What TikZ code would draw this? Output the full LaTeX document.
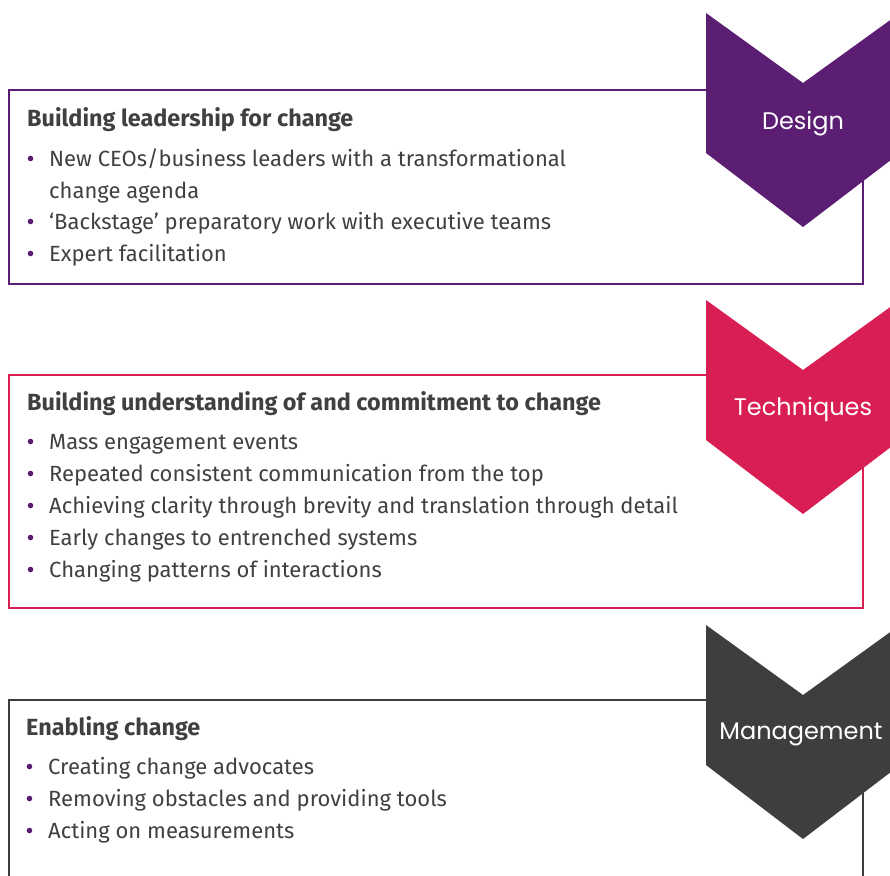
\documentclass[tikz,border=0pt]{standalone}
\usepackage{fontspec}
\setmainfont{Fira Sans}
\newfontfamily\stagefont{Poppins}

\definecolor{designpurple}{HTML}{5B1E73}
\definecolor{techcrimson}{HTML}{D91E54}
\definecolor{mgmtgray}{HTML}{3E3E3E}
\definecolor{textgray}{HTML}{404040}
\definecolor{dotpurple}{HTML}{5B1E73}

\tikzset{
  frame/.style={line width=1.6pt},
  head/.style={anchor=base west, inner sep=0pt, text=textgray,
    font=\fontsize{23.4}{27}\selectfont\bfseries},
  item/.style={anchor=base west, inner sep=0pt, text=textgray,
    font=\fontsize{22}{26}\selectfont},
  stage/.style={inner sep=0pt, text=white,
    font=\stagefont\fontsize{24}{28}\selectfont},
}

\begin{document}
\begin{tikzpicture}[x=1pt, y=-1pt]
  \useasboundingbox (0,0) rectangle (890,875);
  \clip (0,0) rectangle (890,875);

  % box frames
  \draw[frame, designpurple] (706,90) -- (9,90) -- (9,284) -- (863,284) -- (863,170);
  \draw[frame, techcrimson] (706,375) -- (9,375) -- (9,608) -- (863,608) -- (863,455);
  \draw[frame, mgmtgray] (706,700) -- (9,700) -- (9,890);
  \draw[frame, mgmtgray] (863,780) -- (863,890);

  % chevrons
  \fill[designpurple] (706,13) -- (803,83) -- (900,13) -- (900,153) -- (803,227) -- (706,153) -- cycle;
  \fill[techcrimson] (706,300) -- (803,370) -- (900,300) -- (900,440) -- (803,514) -- (706,440) -- cycle;
  \fill[mgmtgray] (706,625) -- (803,695) -- (900,625) -- (900,765) -- (803,839) -- (706,765) -- cycle;

  \node[stage] (design) at (803,124) {Design};
  \node[stage] (techniques) at (803,409) {Techniques};
  \node[stage] (management) at (801,734) {Management};

  % building leadership
  \node[head] (lead) at (27,126) {Building leadership for change};
  \node[item] (lead1) at (49,166) {New CEOs/business leaders with a transformational};
  \node[item] (lead1b) at (49,198) {change agenda};
  \node[item] (lead2) at (49,229) {‘Backstage’ preparatory work with executive teams};
  \node[item] (lead3) at (49,261) {Expert facilitation};

  % building understanding
  \node[head] (under) at (27,410) {Building understanding of and commitment to change};
  \node[item] (under1) at (49,449) {Mass engagement events};
  \node[item] (under2) at (49,481) {Repeated consistent communication from the top};
  \node[item] (under3) at (49,513) {Achieving clarity through brevity and translation through detail};
  \node[item] (under4) at (49,545) {Early changes to entrenched systems};
  \node[item] (under5) at (49,577) {Changing patterns of interactions};

  % enabling change
  \node[head] (enable) at (26,735) {Enabling change};
  \node[item] (enable1) at (48,774) {Creating change advocates};
  \node[item] (enable2) at (48,806) {Removing obstacles and providing tools};
  \node[item] (enable3) at (48,838) {Acting on measurements};

  % bullets
  \foreach \n in {lead1,lead2,lead3,under1,under2,under3,under4,under5,enable1,enable2,enable3}
    \fill[dotpurple] (\n.base west) ++(-18.5,-7.5) circle (2.8pt);
\end{tikzpicture}
\end{document}
